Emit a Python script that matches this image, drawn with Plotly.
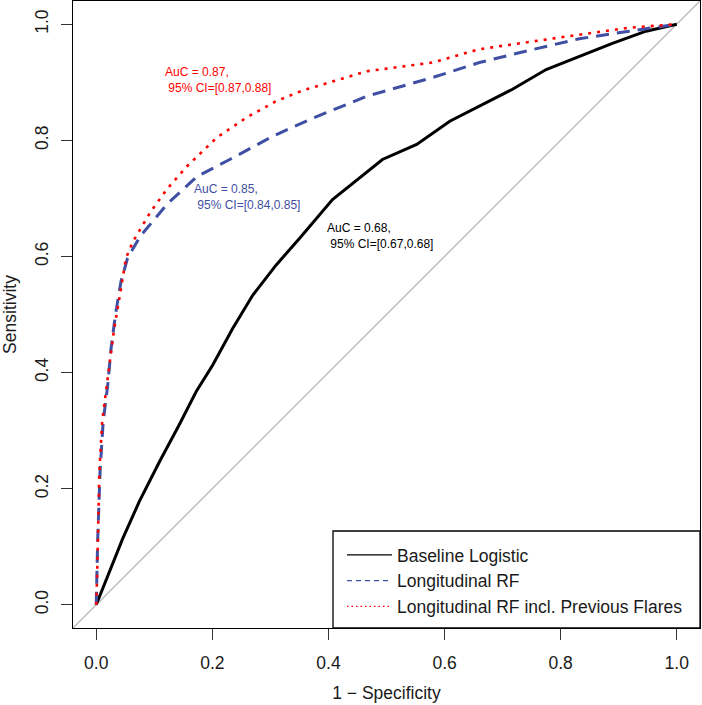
import plotly.graph_objects as go

# ROC curve data
fpr_logit = [0, 0.0226, 0.0456, 0.0743, 0.1087, 0.143, 0.172, 0.2007, 0.235, 0.2695, 0.3097,
             0.350, 0.407, 0.493, 0.552, 0.609, 0.66, 0.717, 0.775, 0.832, 0.889, 0.947, 0.992, 1.0]
tpr_logit = [0, 0.057, 0.114, 0.178, 0.246, 0.310, 0.367, 0.413, 0.476, 0.533, 0.585,
             0.631, 0.698, 0.767, 0.793, 0.833, 0.859, 0.888, 0.922, 0.945, 0.967, 0.988, 0.998, 1.0]

fpr_rf = [0, 0.0026, 0.0066, 0.012, 0.0198, 0.0255, 0.033, 0.0427, 0.054, 0.0686, 0.076,
          0.122, 0.174, 0.230, 0.304, 0.368, 0.466, 0.579, 0.660, 0.746, 0.832, 0.918, 0.992, 1.0]
tpr_rf = [0, 0.114, 0.229, 0.316, 0.378, 0.441, 0.499, 0.557, 0.597, 0.622, 0.635,
          0.690, 0.738, 0.767, 0.807, 0.836, 0.876, 0.908, 0.934, 0.955, 0.975, 0.988, 0.999, 1.0]

fpr_rfprev = [0, 0.0017, 0.0054, 0.0103, 0.0226, 0.031, 0.0427, 0.0513, 0.0629, 0.093, 0.122,
              0.156, 0.208, 0.260, 0.311, 0.356, 0.466, 0.579, 0.660, 0.746, 0.832, 0.918, 0.992, 1.0]
tpr_rfprev = [0, 0.057, 0.229, 0.316, 0.413, 0.476, 0.545, 0.597, 0.625, 0.676, 0.716,
              0.755, 0.805, 0.840, 0.868, 0.886, 0.919, 0.934, 0.957, 0.970, 0.982, 0.994, 1.0, 1.0]

series_names = ["Baseline Logistic", "Longitudinal RF", "Longitudinal RF incl. Previous Flares"]
auc_labels = ["AuC = 0.68,<br>\u00a095% CI=[0.67,0.68]",
              "AuC = 0.85,<br>\u00a095% CI=[0.84,0.85]",
              "AuC = 0.87,<br>\u00a095% CI=[0.87,0.88]"]
label_x = [0.3945, 0.1655, 0.115]
label_y = [0.6345, 0.7025, 0.9045]

tick_vals = [0.0, 0.2, 0.4, 0.6, 0.8, 1.0]
tick_text = ["0.0", "0.2", "0.4", "0.6", "0.8", "1.0"]

BLACK = "#000000"
BLUE = "#3F4FA3"
RED = "#FF0000"
TXT = "#1a1a1a"
FONT = "Liberation Sans, Arial, Helvetica, sans-serif"
FS = 17.5

fig = go.Figure()

# diagonal reference line
fig.add_trace(go.Scatter(x=[-0.04, 1.04], y=[-0.04, 1.04], mode="lines",
                         line=dict(color="#BEBEBE", width=1.5), showlegend=False,
                         hoverinfo="skip"))

styles = [
    dict(color=BLACK, width=3, dash="solid"),
    dict(color=BLUE, width=3, dash="13px,8px"),
    dict(color=RED, width=2.6, dash="3px,6px"),
]
data = [(fpr_logit, tpr_logit), (fpr_rf, tpr_rf), (fpr_rfprev, tpr_rfprev)]
for (xs, ys), st in zip(data, styles):
    fig.add_trace(go.Scatter(x=xs, y=ys, mode="lines", line=st, showlegend=False))

# legend entries (thin lines like the reference)
legend_styles = [
    dict(color=BLACK, width=1.2, dash="solid"),
    dict(color=BLUE, width=1.2, dash="5px,4px"),
    dict(color=RED, width=1.2, dash="1.5px,3px"),
]
for name, st in zip(series_names, legend_styles):
    fig.add_trace(go.Scatter(x=[None], y=[None], mode="lines", line=st, name=name,
                             showlegend=True))

colors = [BLACK, BLUE, RED]
for txt, x, y, c in zip(auc_labels, label_x, label_y, colors):
    fig.add_annotation(x=x, y=y, xref="x", yref="y", text=txt, showarrow=False,
                       xanchor="left", yanchor="middle", align="left",
                       font=dict(size=12, color=c, family=FONT))

# legend frame
fig.add_shape(type="rect", xref="paper", yref="paper", x0=0.4147, x1=1.0, y0=0.0, y1=0.1547,
              line=dict(color="black", width=1.3), fillcolor="white", layer="below")

axis_common = dict(
    range=[-0.04, 1.04], tickvals=tick_vals, ticktext=tick_text,
    showgrid=False, zeroline=False, showline=True, linecolor="black", linewidth=1.3,
    mirror=True, ticks="outside", ticklen=11, tickwidth=1.3, tickcolor="#333333",
    tickfont=dict(size=FS, color=TXT, family=FONT),
)

fig.update_xaxes(**axis_common,
                 title=dict(text="1 \u2212 Specificity", font=dict(size=FS, color=TXT, family=FONT), standoff=14),
                 ticklabelstandoff=8)
fig.update_yaxes(**axis_common, tickangle=-90,
                 title=dict(text="Sensitivity", font=dict(size=FS, color=TXT, family=FONT), standoff=12),
                 ticklabelstandoff=6)

fig.update_layout(
    width=702, height=705,
    margin=dict(l=73, r=2, t=1, b=77, autoexpand=False),
    paper_bgcolor="white", plot_bgcolor="white",
    font=dict(family=FONT, size=FS, color=TXT),
    legend=dict(x=0.429, y=0.1452, xanchor="left", yanchor="top",
                borderwidth=0, bgcolor="rgba(0,0,0,0)",
                font=dict(size=FS, color=TXT, family=FONT),
                tracegroupgap=0, itemwidth=45),
    showlegend=True,
)

fig.write_html("out.html", config={"displayModeBar": False},
               post_script="document.body.style.margin='0px';")
